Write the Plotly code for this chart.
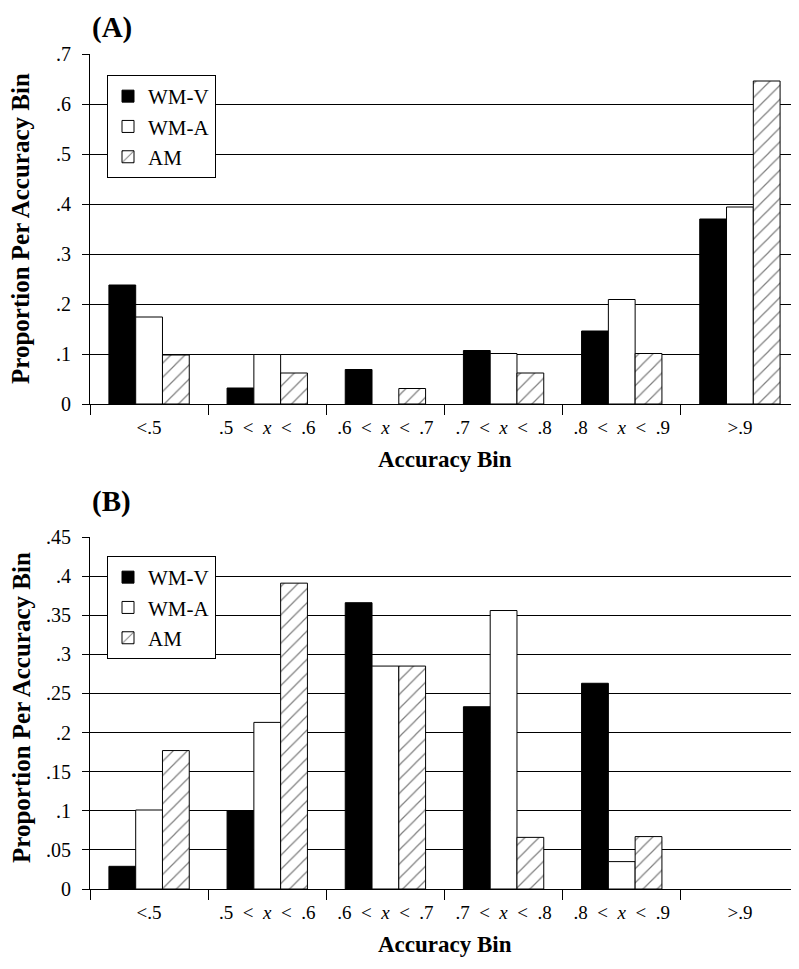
import plotly.graph_objects as go

SP = "\u2002"
categories = ["&lt;.5",
              f".5{SP}&lt;{SP}<i>x</i>{SP}&lt;{SP}.6",
              f".6{SP}&lt;{SP}<i>x</i>{SP}&lt;{SP}.7",
              f".7{SP}&lt;{SP}<i>x</i>{SP}&lt;{SP}.8",
              f".8{SP}&lt;{SP}<i>x</i>{SP}&lt;{SP}.9",
              "&gt;.9"]
series_names = ["WM-V", "WM-A", "AM"]

# Panel A values
a_wmv = [0.238, 0.032, 0.069, 0.107, 0.146, 0.370]
a_wma = [0.174, 0.099, 0.0, 0.101, 0.209, 0.394]
a_am = [0.098, 0.062, 0.031, 0.062, 0.101, 0.646]

# Panel B values
b_wmv = [0.029, 0.100, 0.366, 0.233, 0.263, 0.0]
b_wma = [0.101, 0.213, 0.285, 0.356, 0.035, 0.0]
b_am = [0.177, 0.391, 0.285, 0.066, 0.067, 0.0]

a_ticks = [0, 0.1, 0.2, 0.3, 0.4, 0.5, 0.6, 0.7]
a_ticktext = ["0", ".1", ".2", ".3", ".4", ".5", ".6", ".7"]
b_ticks = [0, 0.05, 0.1, 0.15, 0.2, 0.25, 0.3, 0.35, 0.4, 0.45]
b_ticktext = ["0", ".05", ".1", ".15", ".2", ".25", ".3", ".35", ".4", ".45"]

FONT = "Liberation Serif"
OFF = 8            # browser body margin
W, H = 799 - OFF, 969 - OFF
ML = 90 - OFF


def marker_for(name, vals):
    widths = [1 if v > 0 else 0 for v in vals]
    m = dict(line=dict(color="black", width=widths))
    if name == "WM-V":
        m["color"] = "black"
    elif name == "WM-A":
        m["color"] = "white"
    else:
        m["color"] = "white"
        m["pattern"] = dict(shape="/", fgcolor="black", bgcolor="white",
                            size=10, solidity=0.12)
    return m


fig = go.Figure()
for name, vals in zip(series_names, [a_wmv, a_wma, a_am]):
    fig.add_trace(go.Bar(x=categories, y=vals, name=name, marker=marker_for(name, vals),
                         xaxis="x", yaxis="y", legend="legend"))
for name, vals in zip(series_names, [b_wmv, b_wma, b_am]):
    fig.add_trace(go.Bar(x=categories, y=vals, name=name, marker=marker_for(name, vals),
                         xaxis="x2", yaxis="y2", legend="legend2"))


def py(pix):
    return 1 - (pix - OFF) / H


def px(pix):
    return (pix - 90) / (W - ML)


xcommon = dict(type="category", range=[-0.5, 5.5], showline=True, linecolor="black",
               linewidth=1, ticks="outside", ticklen=10, tickcolor="black",
               tickson="boundaries", showgrid=False, automargin=False,
               ticklabelstandoff=6,
               tickfont=dict(family=FONT, size=19, color="black"))
ycommon = dict(showline=True, linecolor="black", linewidth=1, ticks="outside",
               ticklen=7, tickcolor="black", showgrid=True, gridcolor="black",
               gridwidth=1, zeroline=False, automargin=False,
               ticklabelstandoff=7,
               tickfont=dict(family=FONT, size=20, color="black"))

legcommon = dict(x=px(107), xanchor="left", yanchor="top", bgcolor="white",
                 bordercolor="black", borderwidth=1,
                 font=dict(family=FONT, size=21, color="black"),
                 tracegroupgap=0)

fig.update_layout(
    width=W, height=H,
    margin=dict(l=ML, r=0, t=0, b=0, autoexpand=False),
    paper_bgcolor="white", plot_bgcolor="white",
    barmode="group", bargap=0.32, bargroupgap=0,
    xaxis=dict(domain=[0, 1], anchor="y", **xcommon),
    yaxis=dict(domain=[py(404), py(54)], anchor="x", range=[0, 0.7],
               tickvals=a_ticks, ticktext=a_ticktext, **ycommon),
    xaxis2=dict(domain=[0, 1], anchor="y2", **xcommon),
    yaxis2=dict(domain=[py(889), py(537)], anchor="x2", range=[0, 0.45],
                tickvals=b_ticks, ticktext=b_ticktext, **ycommon),
    legend=dict(y=py(75), **legcommon),
    legend2=dict(y=py(556), **legcommon),
    showlegend=True,
)

ytitle_font = dict(family=FONT, size=25, color="black")
xtitle_font = dict(family=FONT, size=23, color="black")
panel_font = dict(family=FONT, size=29, color="black")
annotations = [
    dict(text="<b>(A)</b>", x=0, y=py(9), xref="paper", yref="paper",
         xanchor="left", yanchor="top", showarrow=False, font=panel_font),
    dict(text="<b>(B)</b>", x=0, y=py(483), xref="paper", yref="paper",
         xanchor="left", yanchor="top", showarrow=False, font=panel_font),
    dict(text="<b>Proportion Per Accuracy Bin</b>", x=px(21), y=py(229),
         xref="paper", yref="paper", xanchor="center", yanchor="middle",
         textangle=-90, showarrow=False, font=ytitle_font),
    dict(text="<b>Proportion Per Accuracy Bin</b>", x=px(21), y=py(708),
         xref="paper", yref="paper", xanchor="center", yanchor="middle",
         textangle=-90, showarrow=False, font=ytitle_font),
    dict(text="<b>Accuracy Bin</b>", x=px(445), y=py(459), xref="paper", yref="paper",
         xanchor="center", yanchor="middle", showarrow=False, font=xtitle_font),
    dict(text="<b>Accuracy Bin</b>", x=px(445), y=py(944), xref="paper", yref="paper",
         xanchor="center", yanchor="middle", showarrow=False, font=xtitle_font),
]
fig.update_layout(annotations=annotations)

fig.write_html("out.html")
